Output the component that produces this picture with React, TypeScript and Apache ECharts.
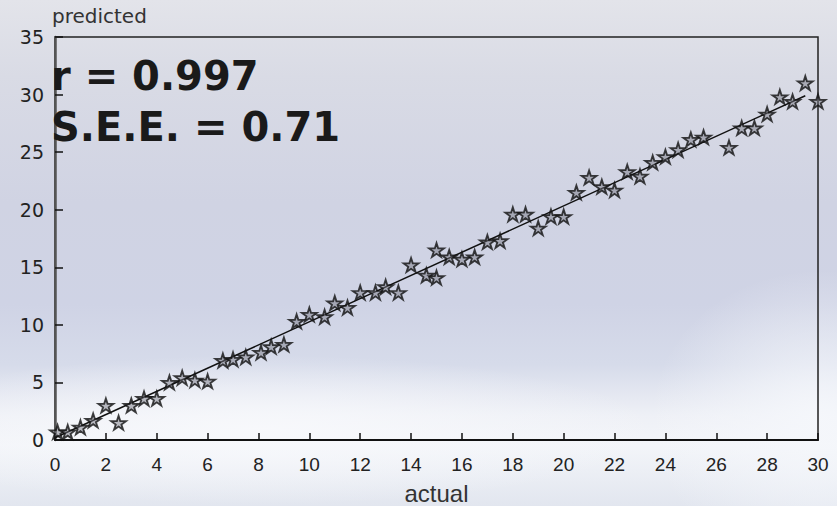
import React, { useEffect, useRef } from "react";
import * as echarts from "echarts";

const actual = [
  0.1, 0.5, 1.0, 1.5, 2.0, 2.5, 3.0, 3.5, 4.0, 4.5, 5.0, 5.5, 6.0, 6.6, 7.0, 7.5,
  8.1, 8.5, 9.0, 9.5, 10.0, 10.6, 11.0, 11.5, 12.0, 12.6, 13.0, 13.5, 14.0, 14.6,
  15.0, 15.0, 15.5, 16.0, 16.5, 17.0, 17.5, 18.0, 18.5, 19.0, 19.5, 20.0, 20.5,
  21.0, 21.5, 22.0, 22.5, 23.0, 23.5, 24.0, 24.5, 25.0, 25.5, 26.5, 27.0, 27.5,
  28.0, 28.5, 29.0, 29.5, 30.0,
];
const predicted = [
  0.7, 0.7, 1.1, 1.7, 3.0, 1.5, 3.0, 3.6, 3.6, 5.0, 5.4, 5.2, 5.1, 6.9, 7.0, 7.2,
  7.6, 8.1, 8.3, 10.3, 10.9, 10.7, 11.9, 11.5, 12.8, 12.8, 13.3, 12.8, 15.2, 14.3,
  14.1, 16.5, 15.9, 15.7, 15.9, 17.2, 17.3, 19.6, 19.6, 18.4, 19.4, 19.4, 21.5,
  22.8, 22.0, 21.7, 23.3, 22.9, 24.1, 24.6, 25.2, 26.1, 26.3, 25.4, 27.1, 27.1,
  28.3, 29.8, 29.4, 31.0, 29.4,
];
const fitLine = [
  [0, 0.2],
  [29.5, 29.9],
];
const statR = "r = 0.997";
const statSEE = "S.E.E. = 0.71";

const STAR =
  "path://M50,0 L61,35 L98,35 L68,57 L79,91 L50,70 L21,91 L32,57 L2,35 L39,35 Z";

export default function App() {
  const ref = useRef<HTMLDivElement>(null);
  useEffect(() => {
    document.body.style.margin = "0";
    const chart = echarts.init(ref.current!, null, { renderer: "svg" });
    const points = actual.map((x, i) => [x, predicted[i]]);
    const sans = "'Liberation Sans', Arial, sans-serif";
    const dejavu = "'DejaVu Sans', sans-serif";
    chart.setOption({
      animation: false,
      backgroundColor: "transparent",
      grid: {
        left: 55,
        right: 19,
        top: 37,
        bottom: 66,
        containLabel: false,
        outerBoundsMode: "none",
        show: true,
        borderColor: "#222",
        borderWidth: 1.5,
      },
      xAxis: {
        type: "value",
        min: 0,
        max: 30,
        interval: 2,
        name: "actual",
        nameLocation: "middle",
        nameGap: 41,
        nameTextStyle: { fontSize: 24, color: "#333", fontFamily: sans },
        axisLine: { show: true, onZero: false, lineStyle: { color: "#111", width: 2 } },
        axisTick: { show: true, inside: true, length: 7, lineStyle: { color: "#111", width: 1.5 } },
        axisLabel: { fontSize: 19, color: "#222", margin: 15, fontFamily: sans },
        splitLine: { show: false },
      },
      yAxis: {
        type: "value",
        min: 0,
        max: 35,
        interval: 5,
        axisLine: { show: true, onZero: false, lineStyle: { color: "#555", width: 2.5 } },
        axisTick: { show: true, inside: true, length: 8, lineStyle: { color: "#111", width: 1.5 } },
        axisLabel: { fontSize: 19, color: "#222", margin: 11, fontFamily: dejavu },
        splitLine: { show: false },
      },
      graphic: [
        {
          type: "text",
          left: 52,
          top: 6,
          style: {
            text: "predicted",
            fontSize: 20,
            fill: "#333",
            fontFamily: dejavu,
          },
        },
        {
          type: "text",
          left: 51,
          top: 56,
          z: 10,
          style: {
            text: statR,
            fontSize: 40,
            fontWeight: "bold",
            fill: "#1a1a1a",
            fontFamily: dejavu,
          },
        },
        {
          type: "text",
          left: 51,
          top: 107,
          z: 10,
          style: {
            text: statSEE,
            fontSize: 40,
            fontWeight: "bold",
            fill: "#1a1a1a",
            fontFamily: dejavu,
          },
        },
      ],
      series: [
        {
          type: "line",
          data: fitLine,
          symbol: "none",
          lineStyle: { color: "#111", width: 1.5 },
          z: 2,
        },
        {
          type: "scatter",
          data: points,
          symbol: STAR,
          symbolSize: [15, 14],
          itemStyle: {
            color: "rgba(120,120,130,0.6)",
            borderColor: "#111",
            borderWidth: 1.8,
          },
          z: 3,
        },
      ],
    });
    return () => chart.dispose();
  }, []);
  return (
    <div
      ref={ref}
      style={{
        position: "fixed",
        left: 0,
        top: 0,
        width: 837,
        height: 506,
        background:
          "radial-gradient(ellipse 170px 150px at 820px 420px, rgba(245,247,251,0.95), rgba(245,247,251,0) 100%), " +
          "radial-gradient(ellipse 400px 75px at 260px 430px, rgba(248,249,252,0.9), rgba(248,249,252,0) 100%), " +
          "linear-gradient(to bottom, #e3e4ea 0%, #d9dbe5 15%, #d0d3e3 40%, #cfd3e5 60%, #d6dbea 72%, #eef0f6 82%, #f3f5f9 88%, #e2e6ef 100%)",
      }}
    />
  );
}
